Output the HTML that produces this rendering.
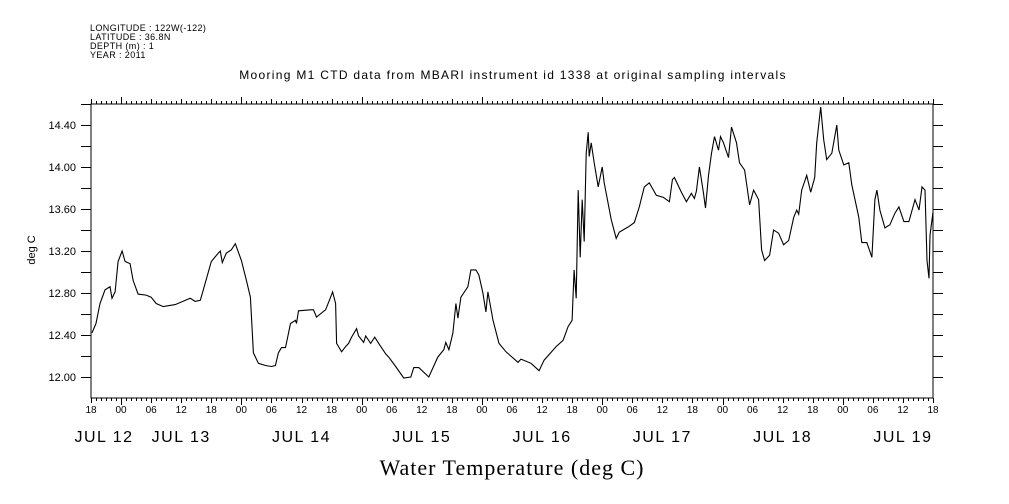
<!DOCTYPE html>
<html><head><meta charset="utf-8"><style>
body{margin:0;background:#fff}
svg{display:block}
text{font-family:"Liberation Sans",sans-serif;fill:#000}
</style></head><body>
<svg id="chart" width="1009" height="504" viewBox="0 0 1009 504">
<g font-size="9" letter-spacing="0.4">
<text x="90" y="31">LONGITUDE : 122W(-122)</text>
<text x="90" y="40">LATITUDE : 36.8N</text>
<text x="90" y="49">DEPTH (m) : 1</text>
<text x="90" y="58">YEAR : 2011</text>
</g>
<text x="513" y="79" font-size="12" text-anchor="middle" letter-spacing="1.3">Mooring M1 CTD data from MBARI instrument id 1338 at original sampling intervals</text>
<text transform="translate(35,250) rotate(-90)" font-size="11" text-anchor="middle">deg C</text>
<text x="512" y="475" font-size="22" text-anchor="middle" letter-spacing="1" style="font-family:'Liberation Serif',serif">Water Temperature (deg C)</text>
<g id="axes"></g>
<g id="series"></g>
</svg>
<script>
const hours=[0.2,1,1.8,2.8,3.8,4.2,4.8,5.4,6.2,6.8,7.8,8.4,9.4,11,12,13,14.4,16.8,19.8,20.8,21.8,22.4,24,25.4,25.8,26.2,27,28,28.8,30,31,31.8,32.4,33.4,34.8,36,36.8,37.4,38,38.8,39.8,40.8,41,41.4,43.8,44.4,45,46,46.8,47.8,48.2,48.8,49,50,50.8,51.4,52,53,53.4,54.4,54.8,55.8,56.6,57.4,58.8,59.4,60.8,62.4,63.8,64.4,65.4,67.4,69.2,70.4,70.8,71.4,72.2,72.8,73.2,73.8,75.2,75.8,76.8,77.4,78.2,78.8,79.2,80.2,81.4,82.8,85.2,85.8,87.8,89.4,90.4,92.8,94.2,95.2,96,96.4,96.8,97.2,97.6,98,98.4,98.8,99.2,99.4,99.8,100.4,101.2,102,102.4,103.8,104.8,105.4,107.2,108.4,109.4,110.4,111.4,112.8,114.2,114.8,115.4,116,116.4,117.8,118.8,119.8,120.4,120.8,121.4,121.8,122.2,122.6,123.2,123.8,124.4,125.2,125.6,126.2,127.2,127.8,128.8,129.4,130.4,131.4,132.2,133.2,133.8,134.4,135.4,136.2,137.2,138.2,139.2,140.2,140.8,141.2,141.8,142.8,143.6,144.4,144.8,145.6,146.2,146.8,147.8,148.8,149.2,150.2,151.2,151.8,153.2,153.8,154.8,155.8,156.4,156.8,157.4,158.4,159.4,160.4,161.2,162.2,163.2,164.4,165.2,165.8,166.4,166.8,167.2,167.4,168];
const temps=[12.42,12.51,12.70,12.83,12.86,12.75,12.81,13.10,13.20,13.10,13.08,12.92,12.79,12.78,12.76,12.70,12.67,12.69,12.75,12.72,12.73,12.83,13.10,13.18,13.20,13.09,13.18,13.21,13.27,13.11,12.92,12.76,12.23,12.13,12.11,12.10,12.11,12.23,12.28,12.28,12.51,12.54,12.51,12.63,12.64,12.64,12.57,12.61,12.64,12.76,12.81,12.70,12.32,12.24,12.29,12.32,12.38,12.46,12.39,12.33,12.39,12.32,12.38,12.32,12.22,12.19,12.10,11.99,12.00,12.09,12.09,12.00,12.19,12.26,12.33,12.26,12.42,12.70,12.56,12.76,12.86,13.02,13.02,12.97,12.80,12.62,12.81,12.54,12.32,12.24,12.14,12.17,12.13,12.06,12.16,12.29,12.35,12.48,12.54,13.02,12.75,13.78,13.14,13.69,13.29,14.13,14.33,14.10,14.23,14.04,13.81,14.00,13.85,13.50,13.32,13.38,13.43,13.47,13.62,13.81,13.85,13.73,13.71,13.69,13.67,13.88,13.90,13.76,13.67,13.75,13.70,13.77,14.00,13.88,13.75,13.61,13.92,14.13,14.29,14.16,14.29,14.23,14.09,14.38,14.23,14.04,13.97,13.64,13.78,13.69,13.21,13.11,13.16,13.40,13.37,13.26,13.30,13.52,13.59,13.55,13.78,13.92,13.76,13.90,14.23,14.57,14.26,14.07,14.13,14.40,14.16,14.02,14.04,13.83,13.52,13.28,13.28,13.14,13.69,13.78,13.59,13.42,13.45,13.56,13.62,13.48,13.48,13.69,13.59,13.81,13.78,13.11,12.94,13.35,13.57];
const yTicks=[12.0,12.2,12.4,12.6,12.8,13.0,13.2,13.4,13.6,13.8,14.0,14.2,14.4,14.6];
const yLabels=["12.00","12.40","12.80","13.20","13.60","14.00","14.40"];
const hourLabels=["18","00","06","12","18","00","06","12","18","00","06","12","18","00","06","12","18","00","06","12","18","00","06","12","18","00","06","12","18"];
const dayLabels=["JUL 12","JUL 13","JUL 14","JUL 15","JUL 16","JUL 17","JUL 18","JUL 19"];

const L=91,R=933,T=104,B=398;
const xs=h=>L+h*(R-L)/168;
const ys=v=>377-(v-12)*105;
const NS='http://www.w3.org/2000/svg';
const axes=document.getElementById('axes'),ser=document.getElementById('series');
function mk(tag,attrs,parent){const e=document.createElementNS(NS,tag);for(const k in attrs)e.setAttribute(k,attrs[k]);parent.appendChild(e);return e;}

const frame=mk('rect',{x:L,y:T,width:R-L,height:B-T,fill:'none',stroke:'#000','stroke-width':1,'shape-rendering':'crispEdges'},axes);



let d='';
for(let h=0;h<=168;h++){
  const x=Math.round(xs(h))+0.5;
  const hr=(18+h)%24;
  const len=hr===0?7:(hr%6===0?5:3);
  d+=`M${x},${B}v${len}M${x},${T}v${-len}`;
}
yTicks.forEach(v=>{const y=Math.round(ys(v))+0.5;d+=`M${L},${y}h-10M${R},${y}h10`;});
const tk=mk('path',{d:d,stroke:'#000','stroke-width':1,fill:'none','shape-rendering':'crispEdges'},axes);



yLabels.forEach(s=>{
  const t=mk('text',{x:76,y:ys(parseFloat(s))+4,'font-size':11,'text-anchor':'end'},axes);
  t.textContent=s;
  
  
});
hourLabels.forEach((s,i)=>{
  const t=mk('text',{x:xs(i*6),y:413,'font-size':10,'text-anchor':'middle'},axes);
  t.textContent=s;
  
  
});
dayLabels.forEach((s,i)=>{
  const h=i===0?2.6:((i-1)*24+18);
  const t=mk('text',{x:xs(h),y:442,'font-size':16,'text-anchor':'middle','letter-spacing':1.5},axes);
  t.textContent=s;
  
  
});

const pts=hours.map((h,i)=>xs(h).toFixed(1)+','+ys(temps[i]).toFixed(1)).join(' ');
const line=mk('polyline',{points:pts,fill:'none',stroke:'#000','stroke-width':1.1},ser);


</script>
</body></html>
